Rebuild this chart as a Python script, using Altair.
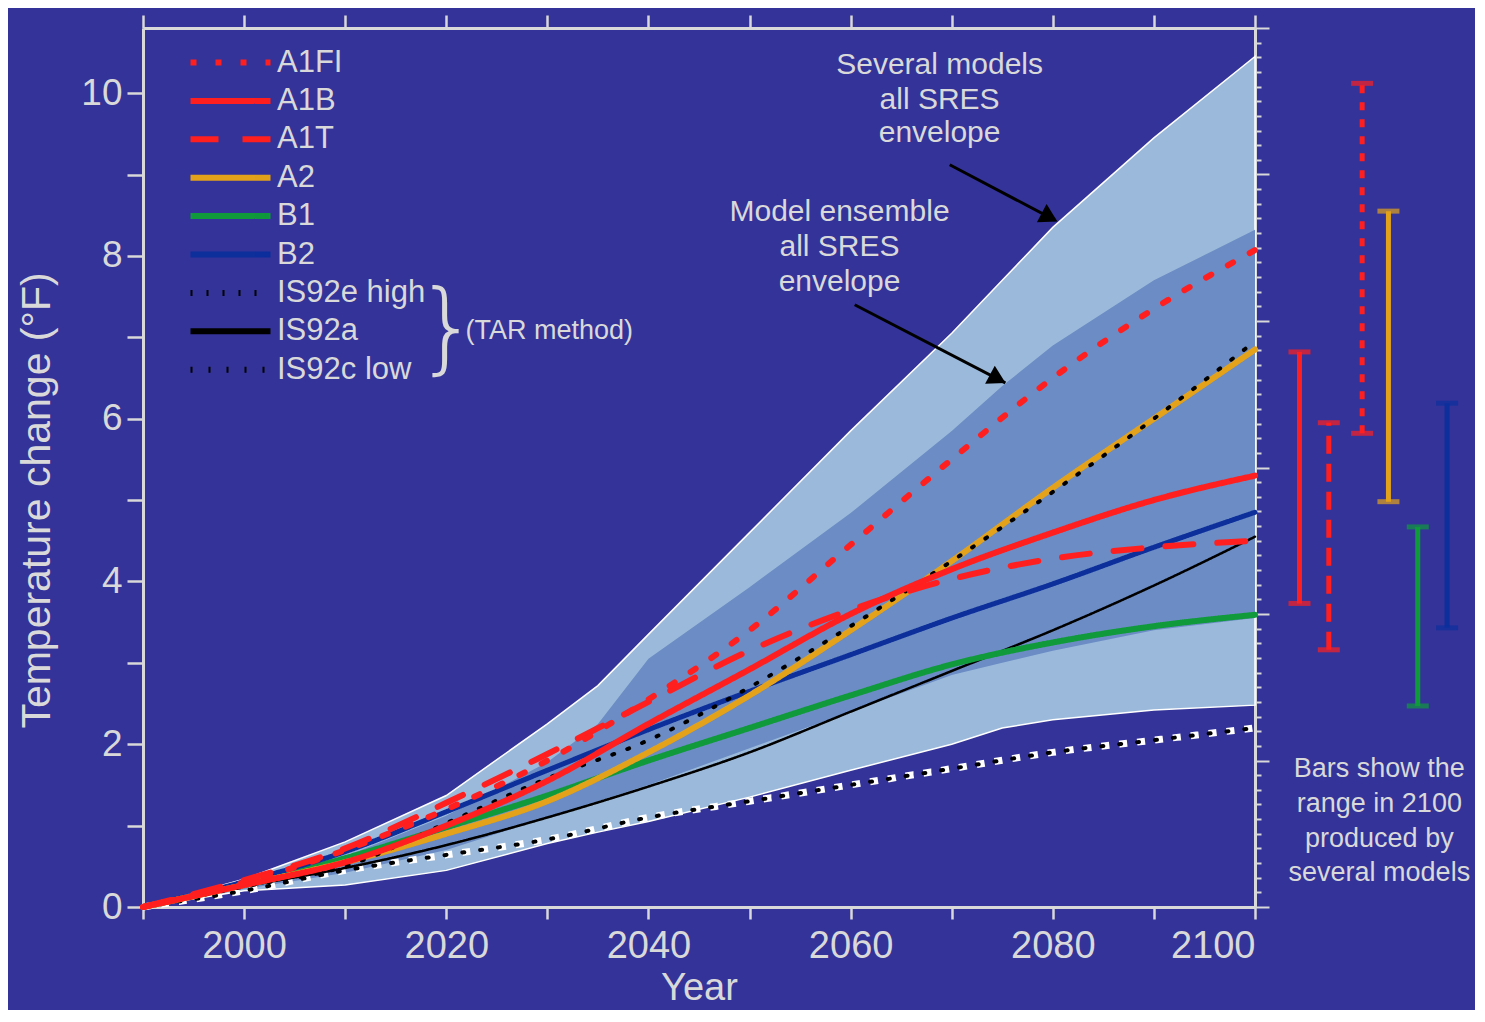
import altair as alt
import pandas as pd

# ---------------- data ----------------
YEARS = [1990, 2000, 2010, 2020, 2030, 2040, 2050, 2060, 2070, 2080, 2090, 2100]
SERIES = ["A1FI", "A1B", "A1T", "A2", "B1", "B2", "IS92e high", "IS92a", "IS92c low"]
COLORS = ["#ff1f1f", "#ff1f1f", "#ff1f1f", "#e3a21a", "#109a3c", "#0c2f9c",
          "#000000", "#000000", "#000000"]
DASHES = [[6, 19], [1, 0], [28, 24], [1, 0], [1, 0], [1, 0], [2, 14], [1, 0], [2, 16]]
WIDTHS = [6, 6, 6, 6, 6, 5, 4, 2.5, 4]

A1FI = [0, 0.30, 0.70, 1.20, 1.80, 2.55, 3.40, 4.45, 5.50, 6.50, 7.35, 8.07]
A1B = [0, 0.27, 0.55, 1.00, 1.55, 2.25, 2.92, 3.60, 4.15, 4.60, 5.00, 5.30]
A1T = [0, 0.33, 0.72, 1.28, 1.88, 2.52, 3.15, 3.65, 4.03, 4.28, 4.42, 4.50]
A2 = [0, 0.27, 0.55, 0.90, 1.30, 1.90, 2.60, 3.40, 4.25, 5.15, 6.00, 6.85]
B1 = [0, 0.28, 0.60, 0.98, 1.37, 1.80, 2.20, 2.60, 2.98, 3.25, 3.45, 3.59]
B2 = [0, 0.31, 0.68, 1.17, 1.68, 2.18, 2.65, 3.10, 3.55, 3.97, 4.42, 4.85]
IS92E = [0, 0.25, 0.50, 1.03, 1.58, 2.05, 2.70, 3.45, 4.25, 5.10, 6.00, 6.95]
IS92A = [0, 0.25, 0.48, 0.76, 1.10, 1.48, 1.90, 2.40, 2.90, 3.40, 3.95, 4.55]
IS92C = [0, 0.20, 0.45, 0.64, 0.83, 1.10, 1.30, 1.50, 1.70, 1.90, 2.05, 2.20]

VALUES = {"A1FI": A1FI, "A1B": A1B, "A1T": A1T, "A2": A2, "B1": B1, "B2": B2,
          "IS92e high": IS92E, "IS92a": IS92A, "IS92c low": IS92C}
DRAW_ORDER = ["IS92c low", "IS92a", "B1", "B2", "A2", "IS92e high", "A1B", "A1T", "A1FI"]

ENV_YEARS = [1990, 2000, 2010, 2020, 2030, 2035, 2040, 2050, 2060, 2070, 2075, 2080, 2090, 2100]
LIGHT_LO = [0, 0.20, 0.27, 0.45, 0.78, 0.92, 1.05, 1.35, 1.68, 2.00, 2.20, 2.30, 2.42, 2.48]
LIGHT_HI = [0, 0.34, 0.80, 1.37, 2.25, 2.72, 3.35, 4.60, 5.85, 7.05, 7.70, 8.35, 9.45, 10.45]
DARK_LO = [0, 0.22, 0.42, 0.70, 1.10, 1.30, 1.50, 1.95, 2.40, 2.85, 3.00, 3.15, 3.40, 3.55]
DARK_HI = [0, 0.32, 0.62, 1.12, 1.78, 2.25, 3.05, 3.93, 4.84, 5.85, 6.40, 6.90, 7.70, 8.32]

# range bars in 2100 (drawn to the right of the plot)
BAR_SERIES = ["A1B", "A1T", "A1FI", "A2", "B1", "B2"]
BAR_POS = [2104.4, 2107.3, 2110.6, 2113.2, 2116.1, 2119.0]
BAR_LOW = [3.73, 3.16, 5.82, 4.98, 2.47, 3.43]
BAR_HIGH = [6.82, 5.95, 10.12, 8.55, 4.67, 6.19]
BAR_COLORS = ["#ff1f1f", "#ff1f1f", "#ff1f1f", "#e3a21a", "#109a3c", "#0c2f9c"]

NOTE_TEXT = ["Several models", "all SRES", "envelope",
             "Model ensemble", "all SRES", "envelope"]
NOTE_X = [2068.8, 2068.8, 2068.8, 2058.9, 2058.9, 2058.9]
NOTE_Y = [10.34, 9.91, 9.51, 8.54, 8.11, 7.68]

BARNOTE_TEXT = ["Bars show the", "range in 2100", "produced by", "several models"]
BARNOTE_X = [2112.3, 2112.3, 2112.3, 2112.3]
BARNOTE_Y = [1.70, 1.27, 0.84, 0.42]

ARROW_X0 = [2069.8, 2060.4]
ARROW_Y0 = [9.12, 7.40]
ARROW_X1 = [2080.2, 2075.3]
ARROW_Y1 = [8.44, 6.44]

TAR_TEXT = ["}", "(TAR method)"]
TAR_X = [2020.1, 2021.9]
TAR_Y = [7.08, 7.08]

X_TICKS = [1990, 2000, 2010, 2020, 2030, 2040, 2050, 2060, 2070, 2080, 2090, 2100]
Y_TICKS = [0, 1, 2, 3, 4, 5, 6, 7, 8, 9, 10]
C_TICKS = [round(i * 0.1, 1) for i in range(61)]

BG = "#343399"
LIGHT = "#9bbadb"
DARK = "#6b8cc4"
TXT = "#d9d9d9"
FONT = "Liberation Sans"

# ---------------- tables ----------------
rows = []
for s in DRAW_ORDER:
    w = WIDTHS[SERIES.index(s)]
    for yr, v in zip(YEARS, VALUES[s]):
        rows.append({"series": s, "year": yr, "F": v, "sw": w})
lines_df = pd.DataFrame(rows)
low_df = pd.DataFrame({"year": YEARS, "F": IS92C})
env_df = pd.DataFrame({"year": ENV_YEARS, "llo": LIGHT_LO, "lhi": LIGHT_HI,
                       "dlo": DARK_LO, "dhi": DARK_HI})
bars_df = pd.DataFrame({"series": BAR_SERIES, "year": BAR_POS, "lo": BAR_LOW,
                        "hi": BAR_HIGH, "bcol": BAR_COLORS})
caps_df = pd.concat([
    bars_df.assign(F=bars_df["lo"]), bars_df.assign(F=bars_df["hi"])
])
notes_df = pd.DataFrame({"text": NOTE_TEXT, "year": NOTE_X, "F": NOTE_Y})
barnote_df = pd.DataFrame({"text": BARNOTE_TEXT, "year": BARNOTE_X, "F": BARNOTE_Y})
arrow_df = pd.DataFrame({"year": ARROW_X0, "F": ARROW_Y0, "year2": ARROW_X1, "F2": ARROW_Y1})
head_df = pd.DataFrame({
    "year": [x1 - 0.05 * (x1 - x0) for x0, x1 in zip(ARROW_X0, ARROW_X1)],
    "F": [y1 - 0.05 * (y1 - y0) for y0, y1 in zip(ARROW_Y0, ARROW_Y1)],
})
tar_df = pd.DataFrame({"text": TAR_TEXT, "year": TAR_X, "F": TAR_Y})
helper_df = pd.DataFrame({"yr": [1990], "c": [0]})

# ---------------- scales / axes ----------------
XS = alt.Scale(domain=[1990, 2100], nice=False, zero=False)
YS = alt.Scale(domain=[0, 10.8], nice=False, zero=True)
AX_X = alt.Axis(orient="bottom", values=X_TICKS, format="d",
                labelExpr="datum.value % 20 === 0 ? datum.label : ''",
                tickSize=12, labelPadding=8, labelFontSize=38,
                labelColor=TXT, titleColor=TXT, titleFontWeight="normal",
                title="Year", titleFontSize=38, titlePadding=4, grid=False,
                domainColor=TXT, domainWidth=3, tickColor=TXT, tickWidth=2.5)
AX_Y = alt.Axis(orient="left", values=Y_TICKS,
                labelExpr="datum.value % 2 === 0 ? datum.label : ''",
                tickSize=16, labelPadding=5, labelFontSize=37,
                labelColor=TXT, titleColor=TXT, titleFontWeight="normal",
                title="Temperature change (°F)", titleFontSize=41,
                titlePadding=22, titleY=472, grid=False,
                domainColor=TXT, domainWidth=3, tickColor=TXT, tickWidth=2.5)


def X(field="year"):
    return alt.X(f"{field}:Q", scale=XS, axis=AX_X)


def Y(field="F"):
    return alt.Y(f"{field}:Q", scale=YS, axis=AX_Y)


LEG = alt.Legend(orient="none", legendX=42, legendY=19, title=None,
                 labelFontSize=31, labelColor=TXT, labelFont=FONT,
                 symbolType="M-1,0H7", symbolSize=400, symbolStrokeWidth=6,
                 labelOffset=61, rowPadding=6.4, labelLimit=400, symbolOpacity=1)

light = alt.Chart(env_df).mark_area(color=LIGHT, stroke="white", strokeWidth=1.5).encode(
    x=X(), y=Y("llo"), y2="lhi")
dark = alt.Chart(env_df).mark_area(color=DARK).encode(
    x=X(), y=Y("dlo"), y2="dhi")

low_halo = alt.Chart(low_df).mark_line(
    color="white", strokeDash=[8, 10], strokeWidth=7, interpolate="monotone"
).encode(x=X(), y=Y())

lines = alt.Chart(lines_df).mark_line(
    strokeCap="round", strokeJoin="round", interpolate="monotone"
).encode(
    x=X(), y=Y(),
    color=alt.Color("series:N", scale=alt.Scale(domain=SERIES, range=COLORS), legend=LEG),
    strokeDash=alt.StrokeDash("series:N", scale=alt.Scale(domain=SERIES, range=DASHES), legend=LEG),
    strokeWidth=alt.StrokeWidth("sw:Q", scale=None, legend=None),
)

bar_solid = alt.Chart(bars_df).transform_filter(
    "datum.series != 'A1T' && datum.series != 'A1FI'"
).mark_rule(strokeWidth=5).encode(
    x=X(), y=Y("lo"), y2="hi", stroke=alt.Stroke("bcol:N", scale=None))
bar_a1t = alt.Chart(bars_df).transform_filter("datum.series == 'A1T'").mark_rule(
    strokeWidth=5, strokeDash=[18, 10]).encode(
    x=X(), y=Y("lo"), y2="hi", stroke=alt.Stroke("bcol:N", scale=None))
bar_a1fi = alt.Chart(bars_df).transform_filter("datum.series == 'A1FI'").mark_rule(
    strokeWidth=5, strokeDash=[8, 9]).encode(
    x=X(), y=Y("lo"), y2="hi", stroke=alt.Stroke("bcol:N", scale=None))
caps = alt.Chart(caps_df).mark_tick(orient="horizontal", thickness=5, size=22).encode(
    x=X(), y=Y(), fill=alt.Fill("bcol:N", scale=None))

notes = alt.Chart(notes_df).mark_text(
    fontSize=30, color=TXT, align="center", baseline="middle", font=FONT
).encode(x=X(), y=Y(), text="text:N")
barnotes = alt.Chart(barnote_df).mark_text(
    fontSize=27, color=TXT, align="center", baseline="middle", font=FONT
).encode(x=X(), y=Y(), text="text:N")

arrows = alt.Chart(arrow_df).mark_rule(color="black", strokeWidth=3).encode(
    x=X(), y=Y(), x2="year2", y2="F2")
heads = alt.Chart(head_df).mark_point(
    shape="triangle-right", angle=28, filled=True, size=420, color="black", opacity=1
).encode(x=X(), y=Y())

brace = alt.Chart(tar_df).transform_filter("datum.text == '}'").mark_text(
    fontSize=100, color=TXT, align="center", baseline="middle", font="DejaVu Sans",
    fontWeight=200
).encode(x=X(), y=Y(), text="text:N")
tar = alt.Chart(tar_df).transform_filter("datum.text != '}'").mark_text(
    fontSize=27, color=TXT, align="left", baseline="middle", font=FONT
).encode(x=X(), y=Y(), text="text:N")

inner = alt.layer(light, dark, low_halo, lines, bar_solid, bar_a1t, bar_a1fi, caps,
                  notes, barnotes, arrows, heads, brace, tar)

helper = alt.Chart(helper_df).mark_point(opacity=0).encode(
    x=alt.X("yr:Q", scale=XS, axis=alt.Axis(orient="top", values=X_TICKS, labels=False,
                                            tickSize=13, title=None, grid=False,
                                            domainColor=TXT, domainWidth=3,
                                            tickColor=TXT, tickWidth=2.5)),
    y=alt.Y("c:Q", scale=alt.Scale(domain=[0, 6], nice=False),
            axis=alt.Axis(orient="right", values=C_TICKS, labels=False, title=None,
                          grid=False, tickWidth=2, tickColor=TXT,
                          domainColor=TXT, domainWidth=3,
                          tickSize={"condition": {"test": "abs(datum.value - round(datum.value)) < 0.001",
                                                  "value": 14}, "value": 6})),
)

chart = alt.layer(inner, helper).resolve_scale(y="independent").resolve_axis(
    x="independent"
).properties(
    width=1112, height=879, background=BG,
    padding={"left": 135, "top": 20, "right": 220, "bottom": 103},
    autosize=alt.AutoSizeParams(type="none"),
).configure(font=FONT).configure_view(stroke=None).configure_axis(
    labelFont=FONT, titleFont=FONT,
)

chart.save("out.html", embed_options={"renderer": "svg", "actions": False})
